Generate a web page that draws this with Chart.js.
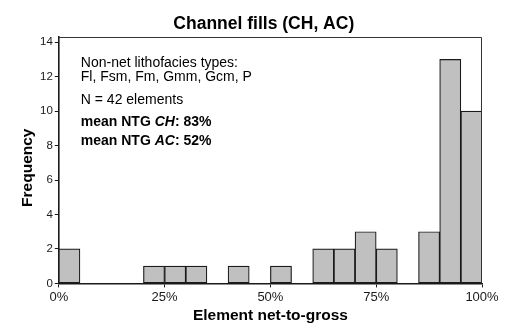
<!DOCTYPE html>
<html>
<head>
<meta charset="utf-8">
<script src="https://cdn.jsdelivr.net/npm/chart.js@4/dist/chart.umd.min.js"></script>
<style>
    body { margin: 0; background: #fff; }
    #wrap { width: 509px; height: 325px; }
</style>
</head>
<body>
<div id="wrap"><canvas id="ntgChart"></canvas></div>
<script>
// histogram bins (5% wide), left edges in percent
const binStarts = [0, 5, 10, 15, 20, 25, 30, 35, 40, 45, 50, 55, 60, 65, 70, 75, 80, 85, 90, 95];
const frequency = [2, 0, 0, 0, 1, 1, 1, 0, 1, 0, 1, 0, 2, 2, 3, 2, 0, 3, 13, 10];
const xTicks = [0, 25, 50, 75, 100];
const yTicks = [0, 2, 4, 6, 8, 10, 12, 14];

const chartTitle = 'Channel fills (CH, AC)';
const xTitle = 'Element net-to-gross';
const yTitle = 'Frequency';
// each note line is a list of [text, style] pieces
const noteLines = [
    [['Non-net lithofacies types:', '']],
    [['Fl, Fsm, Fm, Gmm, Gcm, P', '']],
    [['N = 42 elements', '']],
    [['mean NTG ', 'bold'], ['CH', 'italic bold'], [': 83%', 'bold']],
    [['mean NTG ', 'bold'], ['AC', 'italic bold'], [': 52%', 'bold']]
];
const noteOffsets = [30, 44, 67, 89, 108];

const FONT = '"Liberation Sans", Arial, sans-serif';
const INK = '#1a1a1a';

const extrasPlugin = {
    id: 'extras',
    afterDraw(chart) {
        const ctx = chart.ctx;
        const a = chart.chartArea;
        ctx.save();

        // top and right frame
        ctx.strokeStyle = '#333';
        ctx.lineWidth = 1;
        ctx.beginPath();
        ctx.moveTo(a.left, a.top + 0.5);
        ctx.lineTo(a.right - 0.5, a.top + 0.5);
        ctx.lineTo(a.right - 0.5, a.bottom);
        ctx.stroke();

        ctx.fillStyle = '#000';
        ctx.textBaseline = 'alphabetic';

        // title
        ctx.font = 'bold 17.5px ' + FONT;
        ctx.textAlign = 'center';
        ctx.fillText(chartTitle, a.left + 205, a.top - 8);

        // x axis title
        ctx.font = 'bold 15.5px ' + FONT;
        ctx.fillText(xTitle, (a.left + a.right) / 2, a.bottom + 36.5);

        // y axis title
        ctx.save();
        ctx.translate(a.left - 27, (a.top + a.bottom) / 2 + 7.5);
        ctx.rotate(-Math.PI / 2);
        ctx.fillText(yTitle, 0, 0);
        ctx.restore();

        // notes
        ctx.textAlign = 'left';
        noteLines.forEach((line, i) => {
            let x = a.left + 22;
            const y = a.top + noteOffsets[i];
            line.forEach(([txt, style]) => {
                ctx.font = (style ? style + ' ' : '') + '14px ' + FONT;
                ctx.fillText(txt, x, y);
                x += ctx.measureText(txt).width;
            });
        });
        ctx.restore();
    }
};

const ctx = document.querySelector('#ntgChart');
new Chart(ctx, {
    type: 'bar',
    data: {
        datasets: [{
            // empty bins get no bar so they don't draw a line on the axis
            data: binStarts.map((b, i) => ({ x: b + 2.5, y: frequency[i] || null })),
            backgroundColor: '#c0c0c0',
            borderColor: INK,
            borderWidth: 1.2,
            borderSkipped: false,
            barPercentage: 1,
            categoryPercentage: 1
        }]
    },
    options: {
        responsive: true,
        maintainAspectRatio: false,
        animation: false,
        layout: { padding: { top: 37, right: 27, left: 38, bottom: 18 } },
        plugins: {
            legend: { display: false },
            tooltip: { enabled: false }
        },
        scales: {
            x: {
                type: 'linear',
                min: 0,
                max: 100,
                offset: false,
                afterBuildTicks: s => { s.ticks = xTicks.map(v => ({ value: v })); },
                ticks: {
                    color: INK,
                    font: { family: FONT, size: 13 },
                    padding: 2,
                    maxRotation: 0,
                    callback: v => v + '%'
                },
                grid: { offset: false, drawOnChartArea: false, tickLength: 4, color: INK },
                border: { color: INK, width: 1.6 }
            },
            y: {
                min: 0,
                max: 14.3,
                afterBuildTicks: s => { s.ticks = yTicks.map(v => ({ value: v })); },
                ticks: {
                    color: INK,
                    font: { family: FONT, size: 11.5 },
                    padding: 2
                },
                grid: { drawOnChartArea: false, tickLength: 4, color: INK },
                border: { color: INK, width: 1.6 }
            }
        }
    },
    plugins: [extrasPlugin]
});
</script>
</body>
</html>
